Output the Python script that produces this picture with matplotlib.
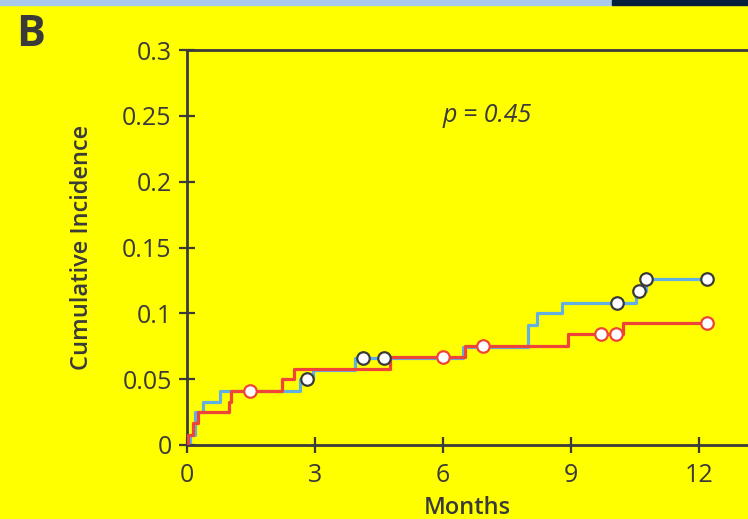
import matplotlib.pyplot as plt
from matplotlib.patches import Rectangle

plt.rcParams['font.family'] = ['Open Sans', 'DejaVu Sans']

# step curves (months, cumulative incidence)
blue_t = [0, 0.07, 0.19, 0.375, 0.77, 2.65, 2.95, 3.94, 6.47, 8.0, 8.2, 8.79, 10.52, 10.76, 12.19]
blue_y = [0, 0.0076, 0.025, 0.0327, 0.041, 0.050, 0.057, 0.066, 0.0744, 0.091, 0.100, 0.108, 0.117, 0.126, 0.126]
red_t = [0, 0.02, 0.14, 0.26, 0.98, 1.03, 2.23, 2.51, 4.76, 6.52, 8.93, 10.22, 12.19]
red_y = [0, 0.0076, 0.0167, 0.025, 0.0327, 0.041, 0.050, 0.058, 0.0668, 0.075, 0.084, 0.093, 0.093]

# censor marks
blue_cens_t = [2.81, 4.12, 4.62, 10.08, 10.59, 10.76, 12.19]
blue_cens_y = [0.050, 0.066, 0.066, 0.108, 0.117, 0.126, 0.126]
red_cens_t = [1.48, 6.0, 6.94, 9.70, 10.05, 12.19]
red_cens_y = [0.041, 0.0668, 0.075, 0.084, 0.084, 0.093]

xticks = [0, 3, 6, 9, 12]
yticks = [0, 0.05, 0.1, 0.15, 0.2, 0.25, 0.3]
ytick_labels = ['0', '0.05', '0.1', '0.15', '0.2', '0.25', '0.3']

dark = '#3a3a3a'
blue = '#62b0e2'
red = '#ef4438'

fig = plt.figure(figsize=(7.48, 5.19), dpi=100)
fig.patch.set_facecolor('#ffff00')

# strip along the top edge
fig.patches.append(Rectangle((0, 1 - 5 / 519), 612 / 748, 5 / 519, transform=fig.transFigure,
                             color='#a9c9ea', zorder=0))
fig.patches.append(Rectangle((612 / 748, 1 - 5 / 519), 136 / 748, 5 / 519, transform=fig.transFigure,
                             color='#06203c', zorder=0))

ax = fig.add_axes([187 / 748, 74 / 519, 561 / 748, 395 / 519])
ax.set_facecolor('#ffff00')

ax.step(blue_t, blue_y, where='post', color=blue, lw=2.3, zorder=2)
ax.step(red_t, red_y, where='post', color=red, lw=2.3, zorder=3)
ax.plot(blue_cens_t, blue_cens_y, 'o', ms=9, mfc='white', mec=dark, mew=1.6, zorder=4)
ax.plot(red_cens_t, red_cens_y, 'o', ms=9, mfc='white', mec=red, mew=1.6, zorder=4)

ax.set_xlim(0, 13.15)
ax.set_ylim(0, 0.3)
ax.set_xticks(xticks)
ax.set_yticks(yticks)
ax.set_yticklabels(ytick_labels)

for s in ['left', 'bottom', 'top']:
    ax.spines[s].set_color(dark)
    ax.spines[s].set_linewidth(2)
ax.spines['right'].set_visible(False)
ax.tick_params(direction='inout', length=12, width=1.6, color=dark, labelcolor=dark,
               labelsize=18)
ax.tick_params(axis='y', pad=5)
ax.tick_params(axis='x', pad=7)

ax.set_ylabel('Cumulative Incidence', fontsize=17, fontweight='semibold', color=dark, labelpad=20)
ax.set_xlabel('Months', fontsize=17, fontweight='semibold', color=dark, labelpad=6)

ax.text(7.03, 0.25, 'p = 0.45', style='italic', fontsize=18, color=dark, ha='center', va='center')
fig.text(16 / 748, 1 - 34 / 519, 'B', fontsize=31, fontweight='bold', color=dark, va='center')

fig.savefig('out.png', dpi=100, facecolor=fig.get_facecolor())
